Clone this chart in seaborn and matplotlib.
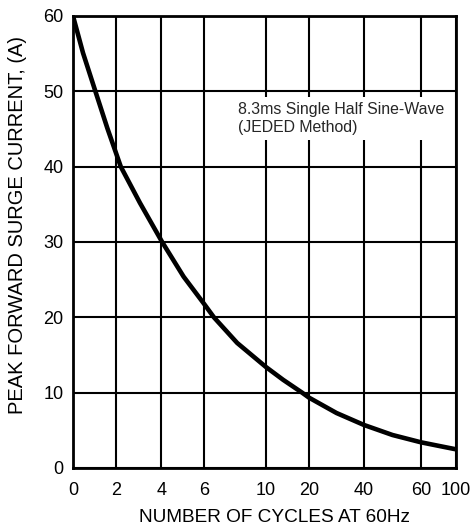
import numpy as np
import pandas as pd
import matplotlib
matplotlib.use("Agg")
import matplotlib.pyplot as plt
import seaborn as sns

# surge current curve
cycles = [0, 0.46, 1.03, 1.58, 2.19, 3.04, 4.03, 5.04, 6.0, 6.64, 8.14,
          10, 14, 18.4, 20, 30, 40, 50, 60, 81, 100]
current = [60, 55.1, 50, 45.1, 40, 35.2, 30, 25.4, 21.8, 20, 16.6,
           13.4, 11.7, 10, 9.34, 7.3, 5.71, 4.38, 3.41, 2.92, 2.48]

x_ticks = [0, 2, 4, 6, 10, 20, 40, 60, 100]
y_ticks = [0, 10, 20, 30, 40, 50, 60]
# the datasheet axis is not linear: where each tick sits along the axis
x_tick_pos = [0, 43.5, 88.5, 131, 193, 236, 291, 348, 383]

note = "8.3ms Single Half Sine-Wave\n(JEDED Method)"

df = pd.DataFrame({"cycles": cycles, "current": current})

sns.set_style("white")
plt.rcParams["font.family"] = ["Liberation Sans", "DejaVu Sans"]

fig = plt.figure(figsize=(4.77, 5.30), dpi=100)
ax = fig.add_axes([73 / 477, 1 - 468 / 530, 383 / 477, 452 / 530])


def fwd(v):
    return np.interp(v, x_ticks, x_tick_pos)


def inv(p):
    return np.interp(p, x_tick_pos, x_ticks)


ax.set_xscale("function", functions=(fwd, inv))
ax.set_xlim(0, 100)
ax.set_ylim(0, 60)
ax.set_xticks(x_ticks)
ax.set_xticklabels([str(t) for t in x_ticks])
ax.set_yticks(y_ticks)
ax.minorticks_off()

ax.grid(True, color="black", linewidth=1.5)
ax.set_axisbelow(True)
for s in ax.spines.values():
    s.set_color("black")
    s.set_linewidth(2.0)

sns.lineplot(data=df, x="cycles", y="current", color="black",
             linewidth=3.3, ax=ax, zorder=5)

ax.tick_params(axis="both", length=0, labelsize=13, colors="black")
ax.tick_params(axis="x", pad=10)
ax.tick_params(axis="y", pad=7)

ax.set_xlabel("NUMBER OF CYCLES AT 60Hz", fontsize=13.7, color="black")
ax.xaxis.set_label_coords((275 - 73) / 383, -(517 - 468) / 452)
ax.xaxis.label.set_verticalalignment("center")
ax.set_ylabel("PEAK FORWARD SURGE CURRENT, (A)", fontsize=14.5, color="black")
ax.yaxis.set_label_coords(-(73 - 18) / 383, (468 - 225) / 452)
ax.yaxis.label.set_verticalalignment("center")

ax.text(0.431, 0.81, note, transform=ax.transAxes, fontsize=11.4,
        va="top", ha="left", linespacing=1.3, zorder=6,
        bbox=dict(boxstyle="square,pad=0.3", facecolor="white",
                  edgecolor="none"))

fig.savefig("out.png", dpi=100)
